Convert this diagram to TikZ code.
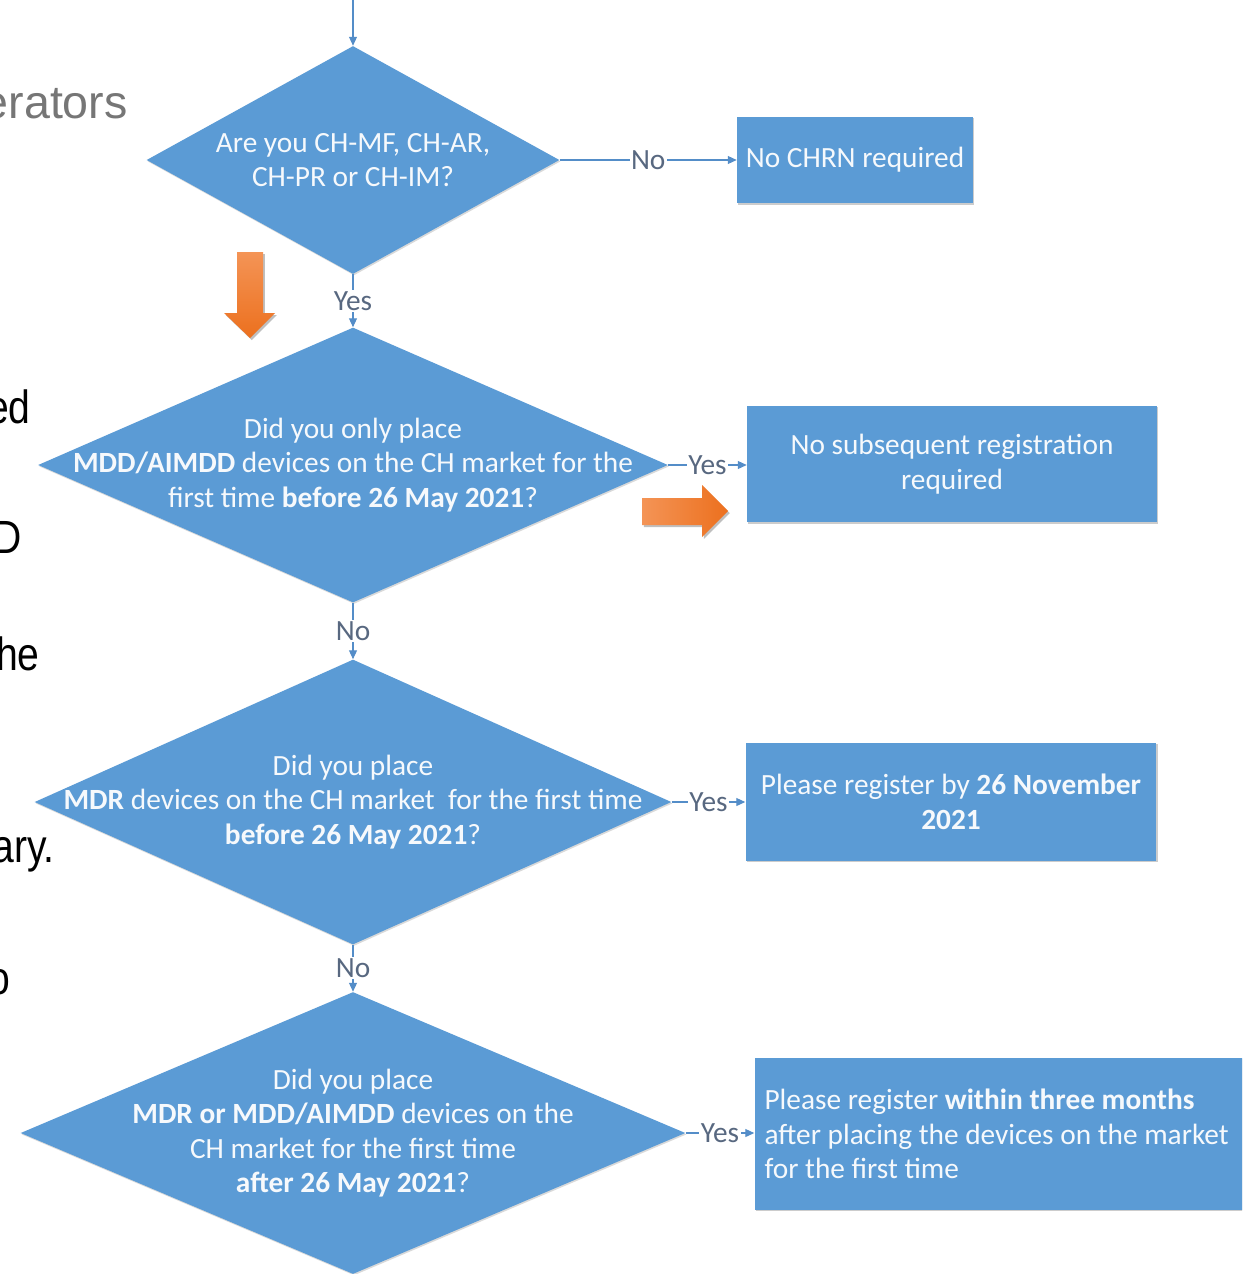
\documentclass[tikz,border=0pt]{standalone}
\usepackage{fontspec}
\setmainfont{Carlito}
\newfontfamily\slidefont[FakeStretch=0.84]{Liberation Sans}
\newfontfamily\slidetitlefont{Liberation Sans}
\usetikzlibrary{arrows.meta,shapes.geometric,shadows}
\definecolor{chblue}{RGB}{91,155,213}
\definecolor{chline}{RGB}{84,141,200}
\definecolor{chlabel}{RGB}{88,104,128}
\definecolor{chtext}{RGB}{246,249,252}
\definecolor{hintA}{RGB}{244,148,86}
\definecolor{hintB}{RGB}{236,112,30}
\definecolor{slidegray}{RGB}{118,118,118}
\newcommand{\chfont}{\fontsize{16.7}{19.6}\selectfont}
\tikzset{
  qdiamond/.style={diamond, fill=chblue, draw=none, inner sep=0pt,
                   drop shadow={shadow xshift=0.6pt, shadow yshift=-0.8pt,
                                fill=black, opacity=0.15}},
  qtext/.style ={align=center, text=chtext, font=\chfont, inner sep=0pt},
  abox/.style  ={rectangle, fill=chblue, draw=none, inner sep=0pt,
                 text=chtext, font=\chfont, align=center,
                 drop shadow={shadow xshift=0.8pt, shadow yshift=-0.8pt,
                              fill=black, opacity=0.2}},
  flow/.style  ={-{Triangle[length=5pt,width=4.5pt]}, line width=0.6pt, chline},
  answer/.style={fill=white, inner sep=0.8pt, text=chlabel, font=\chfont},
  hintdown/.style ={top color=hintA, bottom color=hintB, draw=none,
                    drop shadow={shadow xshift=1pt, shadow yshift=-1.2pt,
                                 fill=black, opacity=0.25}},
  hintright/.style={left color=hintA, right color=hintB, draw=none,
                    drop shadow={shadow xshift=1pt, shadow yshift=-1.2pt,
                                 fill=black, opacity=0.25}},
  slidetext/.style={font=\slidefont\fontsize{26.5}{30}\selectfont,
                    anchor=base east, inner sep=0pt},
}

\begin{document}
\begin{tikzpicture}[x=0.02cm, y=-0.02cm]
  \useasboundingbox (0,0) rectangle (1242,1274);
  \fill[white] (0,0) rectangle (1242,1274);
  \clip (0,0) rectangle (1242,1274);

  % slide text behind the chart
  \node[slidetext, text=slidegray, font=\slidetitlefont\fontsize{26.5}{30}\selectfont]
    (sl1) at (128,118) {erators};
  \node[slidetext] (sl2) at (31,423) {ed};
  \node[slidetext] (sl3) at (22,553) {D};
  \node[slidetext] (sl4) at (40,670) {he};
  \node[slidetext] (sl5) at (55,862) {ary.};
  \node[slidetext] (sl6) at (11,994) {o};

  % questions
  \node[qdiamond, minimum width=82.6mm, minimum height=45.6mm] (q1) at (353,160) {};
  \node[qtext] at (q1) {Are you CH-MF, CH-AR,\\CH-PR or CH-IM?};
  \node[qdiamond, minimum width=126mm, minimum height=55mm] (q2) at (353,465) {};
  \node[qtext] at (q2) {Did you only place\\\textbf{MDD/AIMDD} devices on the CH market for the\\first time \textbf{before 26 May 2021}?};
  \node[qdiamond, minimum width=127.4mm, minimum height=57mm] (q3) at (353,802) {};
  \node[qtext] at (q3) {Did you place\\\textbf{MDR} devices on the CH market~ for the first time\\\textbf{before 26 May 2021}?};
  \node[qdiamond, minimum width=133mm, minimum height=56.4mm] (q4) at (353,1133) {};
  \node[qtext] at (q4) {Did you place\\\textbf{MDR or MDD/AIMDD} devices on the\\CH market for the first time\\\textbf{after 26 May 2021}?};

  % answers
  \node[abox, minimum width=47.2mm, minimum height=17.4mm] (r1) at (855,160) {No CHRN required};
  \node[abox, minimum width=82mm, minimum height=23.4mm] (r2) at (952,464) {No subsequent registration\\required};
  \node[abox, minimum width=82.2mm, minimum height=23.6mm] (r3) at (951,802) {Please register by \textbf{26 November}\\\textbf{2021}};
  \node[abox, minimum width=107mm, minimum height=30.4mm, text width=103mm,
        align=flush left] (r4) at (1022,1134) {Please register \textbf{within three months}\\after placing the devices on the market\\for the first time};

  % connectors
  \coordinate (entry) at (353,0);
  \draw[flow] (entry) -- (q1.north);
  \draw[flow] (q1.east) -- node[answer]{No} (q1.east -| r1.west);
  \draw[flow] (q1.south) -- node[answer]{Yes} (q2.north);
  \draw[flow] (q2.east) -- node[answer]{Yes} (q2.east -| r2.west);
  \draw[flow] (q2.south) -- node[answer]{No} (q3.north);
  \draw[flow] (q3.east) -- node[answer]{Yes} (q3.east -| r3.west);
  \draw[flow] (q3.south) -- node[answer]{No} (q4.north);
  \draw[flow] (q4.east) -- node[answer]{Yes} (q4.east -| r4.west);

  % orange hint arrows
  \path[hintdown] (237,252) -- (263,252) -- (263,313) -- (275,313) -- (250,338)
    -- (224,313) -- (237,313) -- cycle;
  \path[hintright] (642,498) -- (702,498) -- (702,485) -- (728,511) -- (702,537)
    -- (702,525) -- (642,525) -- cycle;
\end{tikzpicture}
\end{document}
